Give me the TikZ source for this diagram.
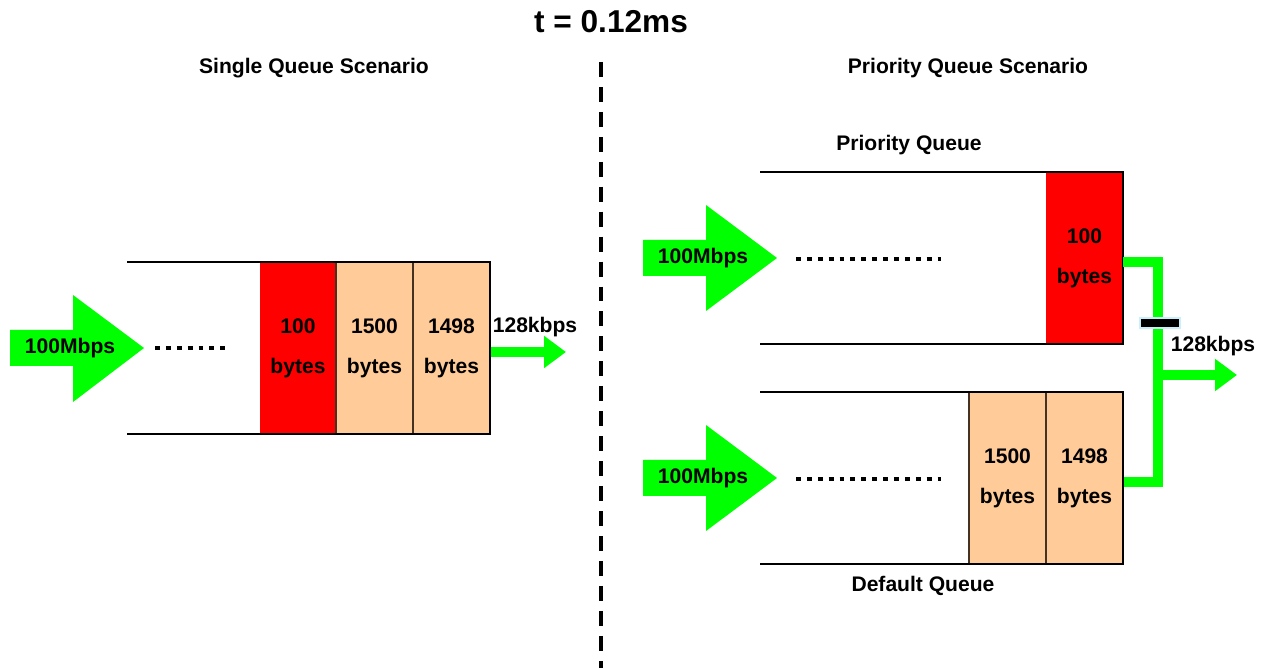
\documentclass[tikz,border=0pt]{standalone}
\usepackage{fontspec}
\setmainfont{Liberation Sans}
\usetikzlibrary{arrows.meta}

\definecolor{peach}{RGB}{255,204,153}
\definecolor{sepbrown}{RGB}{70,50,35}

\tikzset{
  lbl/.style={font=\bfseries\fontsize{12}{14}\selectfont, inner sep=0pt},
  pkt/.style={minimum width=1.54cm, minimum height=3.44cm, inner sep=0pt, align=center,
    font=\bfseries\fontsize{12}{22.7}\selectfont},
  qline/.style={line width=1.2pt},
  bigarrow/.style={fill=green},
  outarrow/.style={draw=green, line width=6.2pt, -{Triangle[length=12.5pt,width=17.6pt]}},
  greenline/.style={draw=green, line width=5.7pt},
  dots/.style={line width=2.8pt, dash pattern=on 2.8pt off 3.4pt},
}

\begin{document}
\begin{tikzpicture}[x=0.02cm,y=-0.02cm]
  \useasboundingbox (0,0) rectangle (1272,668);

  \node[font=\bfseries\fontsize{18}{20}\selectfont, inner sep=0pt] (title) at (611,22) {t = 0.12ms};
  \draw[line width=2.3pt, dash pattern=on 8.5pt off 5.7pt] (601,62) -- (601,668);
  \node[lbl] (single) at (314,68) {Single Queue Scenario};
  \node[lbl] (prio) at (968,68) {Priority Queue Scenario};

  % single queue
  \node[pkt, fill=red] (s100) at (298,348) {100\\bytes};
  \node[pkt, fill=peach, draw=sepbrown, line width=0.6pt] (s1500) at (374.5,348) {1500\\bytes};
  \node[pkt, fill=peach, draw=sepbrown, line width=0.6pt] (s1498) at (451.5,348) {1498\\bytes};
  \draw[qline] (127,262) -- (490,262) -- (490,434) -- (127,434);
  \fill[bigarrow] (10,330) -- (73,330) -- (73,295) -- (144,348) -- (73,402) -- (73,366) -- (10,366) -- cycle;
  \node[lbl] (sin) at (70,348) {100Mbps};
  \draw[dots] (155,348) -- (231,348);
  \coordinate (sout) at (566,352);
  \draw[outarrow] (s1498.east |- sout) -- (sout);
  \node[lbl] (srate) at (535,327) {128kbps};

  % priority queue
  \node[lbl] (pqname) at (909,145) {Priority Queue};
  \node[pkt, fill=red] (p100) at (1084.5,258) {100\\bytes};
  \draw[qline] (760,172) -- (1123,172) -- (1123,344) -- (760,344);
  \fill[bigarrow] (643,240) -- (706,240) -- (706,205) -- (777,258) -- (706,311) -- (706,276) -- (643,276) -- cycle;
  \node[lbl] (pin) at (703,258) {100Mbps};
  \draw[dots] (796,259) -- (941,259);

  % default queue
  \node[pkt, fill=peach, draw=sepbrown, line width=0.6pt] (d1500) at (1007.5,478) {1500\\bytes};
  \node[pkt, fill=peach, draw=sepbrown, line width=0.6pt] (d1498) at (1084.5,478) {1498\\bytes};
  \draw[qline] (760,392) -- (1123,392) -- (1123,564) -- (760,564);
  \fill[bigarrow] (643,460) -- (706,460) -- (706,425) -- (777,478) -- (706,531) -- (706,496) -- (643,496) -- cycle;
  \node[lbl] (din) at (703,478) {100Mbps};
  \draw[dots] (796,479) -- (941,479);
  \node[lbl] (dqname) at (923,586) {Default Queue};

  % scheduler
  \coordinate (join) at (1158,375);
  \coordinate (pout) at (1237,375);
  \draw[greenline] ([yshift=-4*0.02cm]p100.east) -| (join) |- ([yshift=-4*0.02cm]d1498.east);
  \draw[outarrow] (join) -- (pout);
  \node[fill=black, draw=cyan!20, line width=1.1pt, minimum width=0.8cm, minimum height=0.2cm, inner sep=0pt] (gate) at (1160,323) {};
  \node[lbl] (prate) at (1213,346) {128kbps};
\end{tikzpicture}
\end{document}
